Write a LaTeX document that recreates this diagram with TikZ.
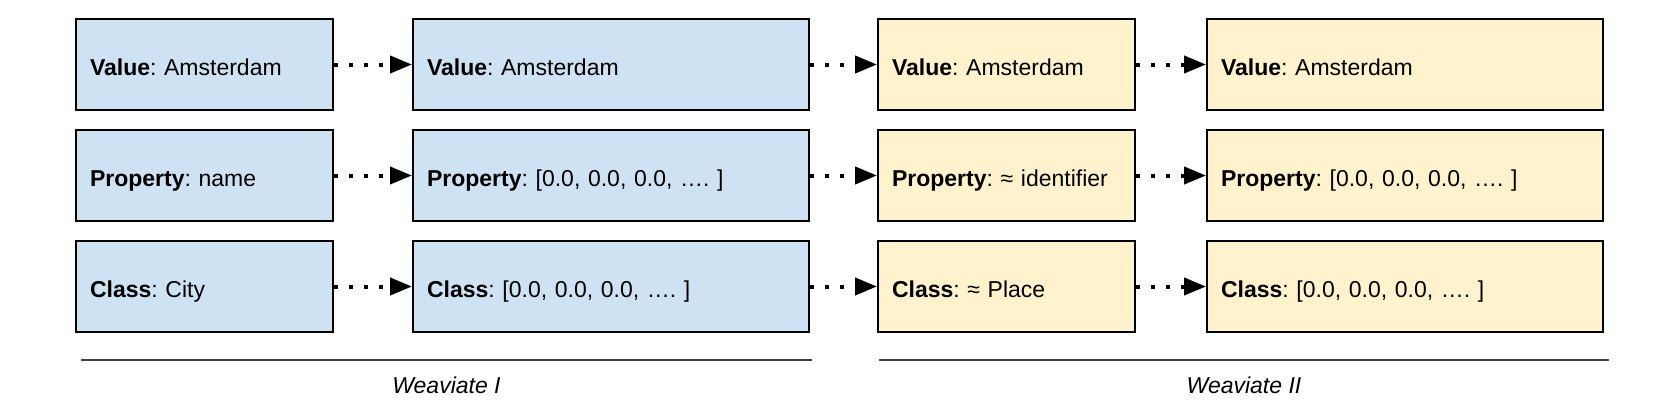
\documentclass[tikz,border=0pt]{standalone}
\usepackage{fontspec}
\setmainfont{Liberation Sans}
\usetikzlibrary{positioning, arrows.meta}
\frenchspacing

\definecolor{oldblue}{HTML}{CFE2F3}
\definecolor{newyellow}{HTML}{FFF2CC}

\tikzset{
	cell/.style={draw, line width=1pt, minimum height=45.5pt, inner xsep=7pt, align=left, text height=10.5pt, text depth=0pt, font=\fontsize{11.5}{14}\selectfont},
	narrow/.style={cell, minimum width=128.5pt, text width=114.5pt},
	wide/.style={cell, minimum width=198pt, text width=184pt},
	wvone/.style={fill=oldblue},
	wvtwo/.style={fill=newyellow},
	flow/.style={line width=2pt, dash pattern=on 2pt off 5.5pt, -{Triangle[length=11pt, width=8.5pt]}},
	sepline/.style={line width=0.9pt, black!75}
}

\begin{document}
\begin{tikzpicture}
		\useasboundingbox (0,0) rectangle (840pt,-206pt);

		% Weaviate I
		\node[narrow, wvone] at (102.25pt,-32.25pt) (v1) {\textbf{Value}: Amsterdam};
		\node[narrow, wvone, below=9pt of v1] (p1) {\textbf{Property}: name};
		\node[narrow, wvone, below=9pt of p1] (c1) {\textbf{Class}: City};
		\node[wide, wvone, right=39pt of v1] (v2) {\textbf{Value}: Amsterdam};
		\node[wide, wvone, right=39pt of p1] (p2) {\textbf{Property}: [0.0, 0.0, 0.0, …. ]};
		\node[wide, wvone, right=39pt of c1] (c2) {\textbf{Class}: [0.0, 0.0, 0.0, …. ]};

		% Weaviate II
		\node[narrow, wvtwo, right=33.5pt of v2] (v3) {\textbf{Value}: Amsterdam};
		\node[narrow, wvtwo, right=33.5pt of p2] (p3) {\textbf{Property}: ≈ identifier};
		\node[narrow, wvtwo, right=33.5pt of c2] (c3) {\textbf{Class}: ≈ Place};
		\node[wide, wvtwo, right=35pt of v3] (v4) {\textbf{Value}: Amsterdam};
		\node[wide, wvtwo, right=35pt of p3] (p4) {\textbf{Property}: [0.0, 0.0, 0.0, …. ]};
		\node[wide, wvtwo, right=35pt of c3] (c4) {\textbf{Class}: [0.0, 0.0, 0.0, …. ]};

		% Connect the boxes
		\draw[flow] (v1) -- (v2);
		\draw[flow] (p1) -- (p2);
		\draw[flow] (c1) -- (c2);
		\draw[flow] (v2) -- (v3);
		\draw[flow] (p2) -- (p3);
		\draw[flow] (c2) -- (c3);
		\draw[flow] (v3) -- (v4);
		\draw[flow] (p3) -- (p4);
		\draw[flow] (c3) -- (c4);

		% Group lines
		\draw[sepline] ([xshift=3pt, yshift=-13.5pt]c1.south west) -- ([xshift=1pt, yshift=-13.5pt]c2.south east)
			node[midway, yshift=-12.5pt, text=black, font=\fontsize{11.5}{14}\selectfont\itshape] {Weaviate I};
		\draw[sepline] ([xshift=1pt, yshift=-13.5pt]c3.south west) -- ([xshift=2.5pt, yshift=-13.5pt]c4.south east)
			node[midway, yshift=-12.5pt, text=black, font=\fontsize{11.5}{14}\selectfont\itshape] {Weaviate II};
	\end{tikzpicture}
\end{document}
